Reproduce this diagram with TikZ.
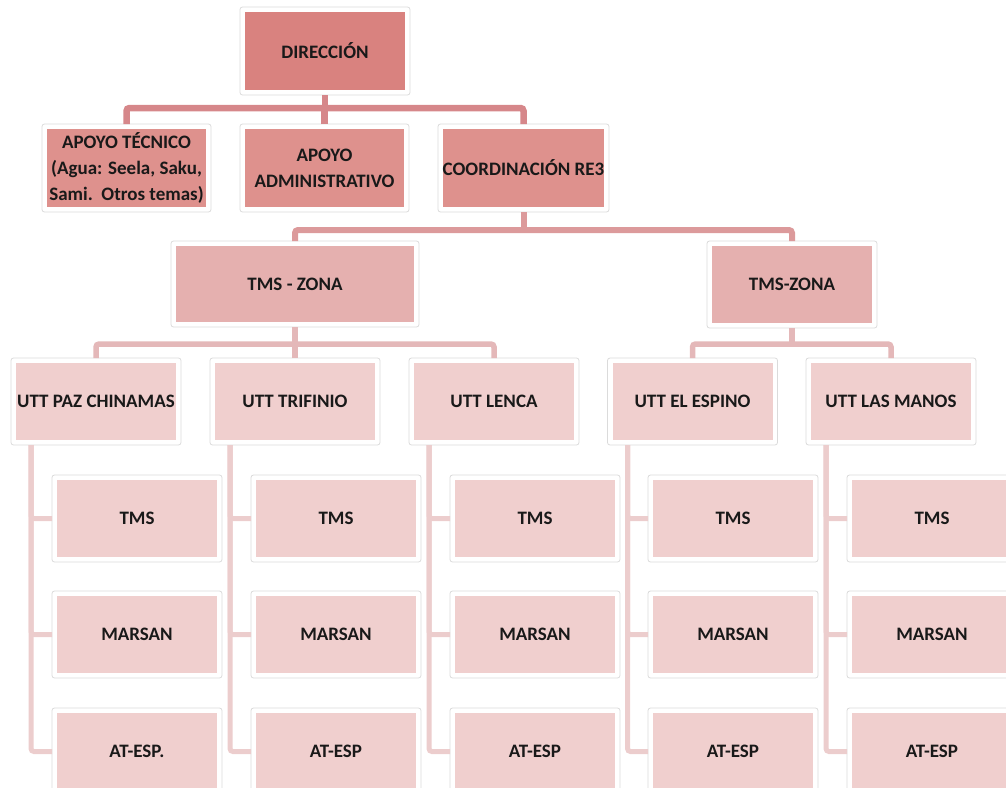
\documentclass[tikz,border=0pt]{standalone}
\usepackage{fontspec}
\setmainfont{Carlito}
\definecolor{cA}{HTML}{D9827F}
\definecolor{cB}{HTML}{DE918D}
\definecolor{cC}{HTML}{E5B0AF}
\definecolor{cD}{HTML}{F0CFCE}
\definecolor{lA}{HTML}{D6878A}
\definecolor{lB}{HTML}{DC9A9B}
\definecolor{lC}{HTML}{E4B8B9}
\definecolor{lD}{HTML}{ECCDCD}
\newcommand\orgbox[7]{%
  \node[oframe, minimum width=#4pt+10pt, minimum height=#5pt+10pt] (#1-f) at (#2,#3) {};
  \node[ibox, fill=#6, minimum width=#4pt, minimum height=#5pt] (#1) at (#2,#3) {#7};}
\begin{document}
\begin{tikzpicture}[x=1pt,y=-1pt,
  oframe/.style={rectangle, draw=black!14, line width=0.8pt, fill=white, rounded corners=2.5pt, inner sep=0pt, outer sep=0pt},
  ibox/.style={rectangle, inner sep=0pt, outer sep=0pt, align=center, font=\fontsize{19}{26}\selectfont\bfseries, text=black!90},
  conn/.style={line width=#1, rounded corners=3pt, line cap=butt},
  connA/.style={conn=6.5pt, draw=lA},
  connB/.style={conn=6pt, draw=lB},
  connC/.style={conn=5.5pt, draw=lC},
  connD/.style={conn=5pt, draw=lD}]
\useasboundingbox (0,0) rectangle (1006,787);
\clip (0,0) rectangle (1006,787);
% level 1
\orgbox{dir}{325}{51}{160}{78}{cA}{DIRECCIÓN}
% level 2
\orgbox{apt}{126.5}{168}{159}{78}{cB}{APOYO TÉCNICO\\(Agua: Seela, Saku,\\Sami.~~Otros temas)}
\orgbox{adm}{324.5}{168}{159}{78}{cB}{APOYO\\ADMINISTRATIVO}
\orgbox{coo}{523.5}{168}{161}{78}{cB}{COORDINACIÓN RE3}
% level 3
\orgbox{tz1}{295}{284}{238}{76}{cC}{TMS - ZONA}
\orgbox{tz2}{792}{284.5}{160}{77}{cC}{TMS-ZONA}
% level 4
\orgbox{u1}{96}{401.5}{160}{77}{cD}{UTT PAZ CHINAMAS}
\orgbox{u2}{295}{401.5}{160}{77}{cD}{UTT TRIFINIO}
\orgbox{u3}{494}{401.5}{160}{77}{cD}{UTT LENCA}
\orgbox{u4}{692.5}{401.5}{160}{77}{cD}{UTT EL ESPINO}
\orgbox{u5}{891}{401.5}{160}{77}{cD}{UTT LAS MANOS}
% level 5
\orgbox{t1}{137}{518.5}{160}{77}{cD}{TMS}
\orgbox{m1}{137}{634.5}{160}{77}{cD}{MARSAN}
\orgbox{e1}{137}{751.5}{160}{77}{cD}{AT-ESP.}
\orgbox{t2}{336}{518.5}{160}{77}{cD}{TMS}
\orgbox{m2}{336}{634.5}{160}{77}{cD}{MARSAN}
\orgbox{e2}{336}{751.5}{160}{77}{cD}{AT-ESP}
\orgbox{t3}{535}{518.5}{160}{77}{cD}{TMS}
\orgbox{m3}{535}{634.5}{160}{77}{cD}{MARSAN}
\orgbox{e3}{535}{751.5}{160}{77}{cD}{AT-ESP}
\orgbox{t4}{733}{518.5}{160}{77}{cD}{TMS}
\orgbox{m4}{733}{634.5}{160}{77}{cD}{MARSAN}
\orgbox{e4}{733}{751.5}{160}{77}{cD}{AT-ESP}
\orgbox{t5}{932}{518.5}{160}{77}{cD}{TMS}
\orgbox{m5}{932}{634.5}{160}{77}{cD}{MARSAN}
\orgbox{e5}{932}{751.5}{160}{77}{cD}{AT-ESP}
% connectors
\coordinate (j1) at (325,108);
\draw[connA] (dir-f.south) -- (j1);
\draw[connA] (apt-f.north) |- (j1) -| (coo-f.north);
\draw[connA] (adm-f.north) -- (adm-f.north |- j1);
\coordinate (j2) at (523.5,230);
\draw[connB] (coo-f.south) -- (j2);
\draw[connB] (tz1-f.north) |- (j2) -| (tz2-f.north);
\coordinate (j3) at (295,344);
\draw[connC] (tz1-f.south) -- (j3);
\draw[connC] (u1-f.north) |- (j3) -| (u3-f.north);
\draw[connC] (u2-f.north) -- (u2-f.north |- j3);
\coordinate (j4) at (792,344);
\draw[connC] (tz2-f.south) -- (j4);
\draw[connC] (u4-f.north) |- (j4) -| (u5-f.north);
\foreach \i in {1,...,5}{
  \coordinate (b\i) at ([xshift=20pt]u\i-f.south west);
  \draw[connD] (b\i) |- (e\i-f.west);
  \draw[connD] (b\i) |- (t\i-f.west);
  \draw[connD] (b\i) |- (m\i-f.west);
}
\end{tikzpicture}
\end{document}
